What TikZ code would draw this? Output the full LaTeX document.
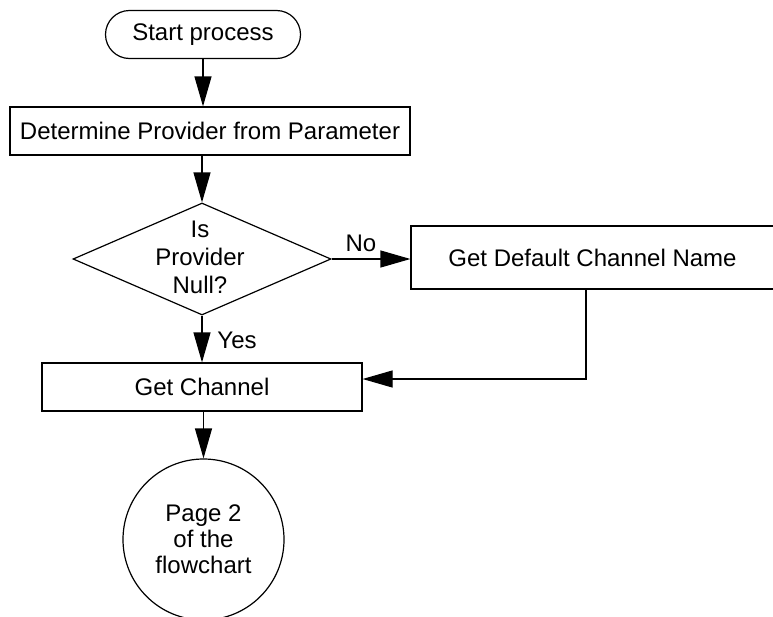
\documentclass[tikz,border=0pt]{standalone}
\usepackage{fontspec}
\setmainfont{Liberation Sans}
\usetikzlibrary{arrows.meta,shapes.geometric}

\tikzset{
	box/.style={draw, rectangle, inner sep=0pt},
	terminal/.style={box, rounded corners=24pt},
	decision/.style={draw, diamond, inner sep=0pt, minimum width=258pt, minimum height=112pt},
	pageref/.style={draw, circle, inner sep=0pt, minimum size=161pt, align=center,
		font=\fontsize{24}{26}\selectfont},
	flow/.style={-{Triangle[length=30pt,width=17pt]}},
}

\begin{document}
\begin{tikzpicture}[x=1pt, y=-1pt, line width=1.2pt, font=\fontsize{24}{28}\selectfont]

	% ---- frame

	\useasboundingbox (0,0) rectangle (773,616);
	\clip (0,0) rectangle (773,616);

	% ---- boxes

	\node[terminal, minimum width=195pt, minimum height=48pt] (start) at (203,34.5) {Start process};
	\node[box, minimum width=400pt, minimum height=48pt] (det) at (210,131) {Determine Provider from Parameter};
	\node[decision] (dec) at (202,259) {};
	\node[align=center] (dectext) at (200,257) {Is\\Provider\\Null?};
	\node[box, minimum width=363pt, minimum height=63pt] (def) at (592.5,257.5) {Get Default Channel Name};
	\node[box, minimum width=320pt, minimum height=48pt] (chan) at (202,387) {Get Channel};
	\node[pageref] (page) at (203.5,539.5) {Page 2\\of the\\flowchart};

	% ---- arrows

	\draw[flow] (start.south) -- (start.south |- det.north);
	\draw[flow] (dec.north |- det.south) -- (dec.north);
	\draw[flow] (dec.east) -- (def.west |- dec.east);
	\draw[flow] (dec.south) -- (dec.south |- chan.north);
	\draw[flow] (chan.south -| page.north) -- (page.north);

	% ---- back to get channel

	\coordinate (fb) at (586,379);
	\draw[flow] (def.south -| fb) -- (fb) -- (fb -| chan.east);

	% ---- branch labels

	\node (no) at (361,243) {No};
	\node (yes) at (237,340) {Yes};

\end{tikzpicture}
\end{document}
